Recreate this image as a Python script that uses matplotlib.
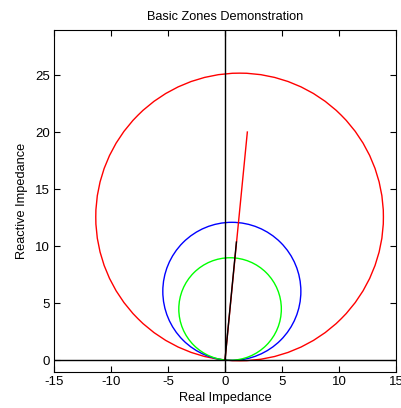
import numpy as np
import matplotlib
matplotlib.use('Agg')
import matplotlib.pyplot as plt
from matplotlib.patches import Circle

plt.rcParams['font.family'] = ['Liberation Sans', 'DejaVu Sans']
plt.rcParams['axes.unicode_minus'] = False

# mho zones: reach point (R, X), circle passes through origin with this diameter
zone_names = ['Zone 1', 'Zone 2', 'Zone 3']
zone_R = [0.89, 1.20, 2.56]
zone_X = [8.95, 12.05, 25.1]
zone_colors = ['#00ff00', '#0000ff', '#ff0000']

# line impedance traces
reach_line_R = [0.0, 1.96]
reach_line_X = [0.0, 20.0]
line_imp_R = [0.0, 1.0]
line_imp_X = [0.0, 10.35]

xlim = (-15, 15)
ylim = (-1.05, 28.95)


def main():
    fig = plt.figure(figsize=(4.01, 4.08), dpi=100)
    ax = fig.add_axes([54 / 401, 36 / 408, 342 / 401, 342 / 408])

    for r, x, c in zip(zone_R[::-1], zone_X[::-1], zone_colors[::-1]):
        rad = np.hypot(r, x) / 2
        ax.add_patch(Circle((r / 2, x / 2), rad, fill=False, edgecolor=c, lw=1.0))

    ax.plot(reach_line_R, reach_line_X, color='#ff0000', lw=1.0)
    ax.plot(xlim, [0, 0], color='k', lw=1.0)
    ax.plot([0, 0], ylim, color='k', lw=1.0)
    ax.plot(line_imp_R, line_imp_X, color='k', lw=1.0)

    ax.set_xlim(xlim)
    ax.set_ylim(ylim)
    ax.set_aspect('auto')
    ax.set_xticks(np.arange(-15, 16, 5))
    ax.set_yticks(np.arange(0, 26, 5))
    ax.tick_params(direction='in', top=True, right=True, length=4, width=0.8, labelsize=9.5, pad=3)
    for s in ax.spines.values():
        s.set_linewidth(0.8)

    ax.set_title('Basic Zones Demonstration', fontsize=9.2, pad=7)
    ax.set_xlabel('Real Impedance', fontsize=9.2, labelpad=3)
    ax.set_ylabel('Reactive Impedance', fontsize=9.2, labelpad=5)

    fig.savefig('out.png', dpi=100)


if __name__ == '__main__':
    main()
